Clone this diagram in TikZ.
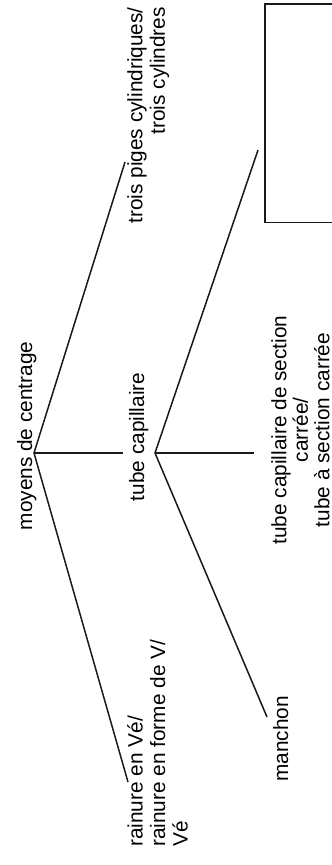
\documentclass[tikz,border=0pt]{standalone}
\usepackage{fontspec}
\setmainfont{Liberation Sans}
\begin{document}
\begin{tikzpicture}[x=1pt,y=-1pt,
  lbl/.style={rotate=90,inner sep=0pt,font=\fontsize{20.8}{22.5}\selectfont},
  branch/.style={line width=1.5pt,draw=black!90}]
\useasboundingbox (0,0) rectangle (332,865);
\fill[white] (0,0) rectangle (332,865);
% texts
\node[lbl,anchor=base] (moyens) at (32,436) {moyens de centrage};
\node[lbl,anchor=base] (capil) at (144,437) {tube capillaire};
\node[lbl,anchor=north east,align=right] (piges) at (127,7) {trois piges cylindriques/\\trois cylindres};
\node[lbl,anchor=north west,align=left] (rainure) at (127,847) {rainure en Vé/\\rainure en forme de V/\\Vé};
\node[lbl,anchor=north,align=center,font=\fontsize{20.8}{21.5}\selectfont] (carree) at (271,430) {tube capillaire de section\\carrée/\\tube à section carrée};
\node[lbl,anchor=base west] (manchon) at (288,782) {manchon};
\node[inner sep=0pt,minimum width=90pt,minimum height=218pt,anchor=north west] (box) at (265,4) {};
\draw[branch] (box.north east) -- (box.north west) -- (box.south west) -- (box.south east);
% branch points and ends
\coordinate (b1) at (34,453);
\coordinate (b2) at (155,453);
\coordinate (e1) at (125,162);
\coordinate (e2) at (123,453);
\coordinate (e3) at (128,782);
\coordinate (f1) at (258,150);
\coordinate (f2) at (254,453);
\coordinate (f3) at (267,717);
\draw[branch] (e1) -- (b1) -- (e3);
\draw[branch] (b1) -- (e2);
\draw[branch] (f1) -- (b2) -- (f3);
\draw[branch] (b2) -- (f2);
\end{tikzpicture}
\end{document}
